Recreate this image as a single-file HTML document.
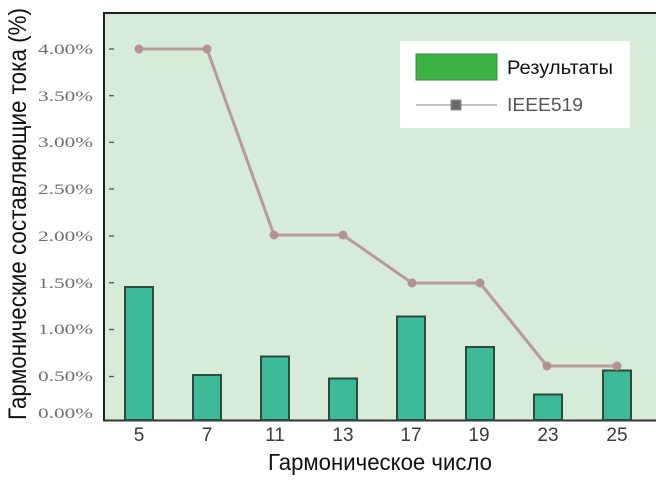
<!DOCTYPE html>
<html><head><meta charset="utf-8"><style>
html,body{margin:0;padding:0;background:#fff;}
svg{display:block;}
</style></head><body>
<svg width="656" height="484" viewBox="0 0 656 484" xmlns="http://www.w3.org/2000/svg">
<rect x="0" y="0" width="656" height="484" fill="#ffffff"/>
<!-- plot area -->
<rect x="104" y="14" width="552" height="406" fill="#d6ebd8"/>
<line x1="103" y1="13" x2="656" y2="13" stroke="#222" stroke-width="2"/>
<line x1="104" y1="12" x2="104" y2="421" stroke="#222" stroke-width="2"/>
<line x1="103" y1="420.5" x2="656" y2="420.5" stroke="#333" stroke-width="2"/>
<!-- y ticks -->
<g stroke="#555" stroke-width="1.3">
<line x1="109" y1="49" x2="114" y2="49"/>
<line x1="109" y1="95.7" x2="114" y2="95.7"/>
<line x1="109" y1="142.3" x2="114" y2="142.3"/>
<line x1="109" y1="189" x2="114" y2="189"/>
<line x1="109" y1="236" x2="114" y2="236"/>
<line x1="109" y1="282.7" x2="114" y2="282.7"/>
<line x1="109" y1="329.5" x2="114" y2="329.5"/>
<line x1="109" y1="376.5" x2="114" y2="376.5"/>
</g>
<g font-family="Liberation Serif, serif" font-size="15" fill="#6e6e6e" text-anchor="end">
<text x="93" y="54" textLength="55" lengthAdjust="spacingAndGlyphs">4.00%</text>
<text x="93" y="101" textLength="55" lengthAdjust="spacingAndGlyphs">3.50%</text>
<text x="93" y="147" textLength="55" lengthAdjust="spacingAndGlyphs">3.00%</text>
<text x="93" y="194" textLength="55" lengthAdjust="spacingAndGlyphs">2.50%</text>
<text x="93" y="241" textLength="55" lengthAdjust="spacingAndGlyphs">2.00%</text>
<text x="93" y="288" textLength="55" lengthAdjust="spacingAndGlyphs">1.50%</text>
<text x="93" y="334" textLength="55" lengthAdjust="spacingAndGlyphs">1.00%</text>
<text x="93" y="381" textLength="55" lengthAdjust="spacingAndGlyphs">0.50%</text>
<text x="93" y="418" textLength="55" lengthAdjust="spacingAndGlyphs">0.00%</text>
</g>
<!-- bars -->
<g fill="#3dbb98" stroke="#2c4a3e" stroke-width="2">
<rect x="125" y="287" width="28" height="133"/>
<rect x="193" y="375" width="28" height="45"/>
<rect x="261" y="356.5" width="28" height="63.5"/>
<rect x="329" y="378.5" width="28" height="41.5"/>
<rect x="397" y="316.5" width="28" height="103.5"/>
<rect x="466" y="347" width="28" height="73"/>
<rect x="534" y="394.5" width="28" height="25.5"/>
<rect x="603" y="370.5" width="28" height="49.5"/>
</g>
<!-- IEEE line -->
<polyline points="139,49 207,49 274,235 343,235 412,283 480,283 547,366 617,366" fill="none" stroke="#b99a9c" stroke-width="3" stroke-linejoin="round"/>
<g fill="#b39294">
<circle cx="139" cy="49" r="4.5"/>
<circle cx="207" cy="49" r="4.5"/>
<circle cx="274" cy="235" r="4.5"/>
<circle cx="343" cy="235" r="4.5"/>
<circle cx="412" cy="283" r="4.5"/>
<circle cx="480" cy="283" r="4.5"/>
<circle cx="547" cy="366" r="4.5"/>
<circle cx="617" cy="366" r="4.5"/>
</g>
<!-- legend -->
<rect x="400" y="41" width="230" height="87" fill="#ffffff"/>
<rect x="416" y="54" width="81" height="26" fill="#3cb343" stroke="#3a8a40" stroke-width="1"/>
<text x="507" y="74" font-family="Liberation Sans, sans-serif" font-size="19" fill="#111" textLength="106" lengthAdjust="spacingAndGlyphs">Результаты</text>
<line x1="416" y1="105" x2="497" y2="105" stroke="#9a9a9a" stroke-width="1.3"/>
<rect x="451" y="100" width="10" height="10" fill="#6a6a6a" stroke="#888" stroke-width="1"/>
<text x="507" y="111" font-family="Liberation Sans, sans-serif" font-size="18" fill="#555" textLength="76" lengthAdjust="spacingAndGlyphs">IEEE519</text>
<!-- x tick labels -->
<g font-family="Liberation Sans, sans-serif" font-size="19" fill="#3a3a3a" text-anchor="middle">
<text x="139" y="441">5</text>
<text x="207" y="441">7</text>
<text x="275" y="441">11</text>
<text x="343" y="441">13</text>
<text x="411" y="441">17</text>
<text x="479" y="441">19</text>
<text x="548" y="441">23</text>
<text x="617" y="441">25</text>
</g>
<!-- axis titles -->
<text x="268" y="470" font-family="Liberation Sans, sans-serif" font-size="23" fill="#111" textLength="224" lengthAdjust="spacingAndGlyphs">Гармоническое число</text>
<text transform="translate(26,420) rotate(-90)" x="0" y="0" font-family="Liberation Sans, sans-serif" font-size="25" fill="#111" textLength="412" lengthAdjust="spacingAndGlyphs">Гармонические составляющие тока (%)</text>
</svg>
</body></html>
